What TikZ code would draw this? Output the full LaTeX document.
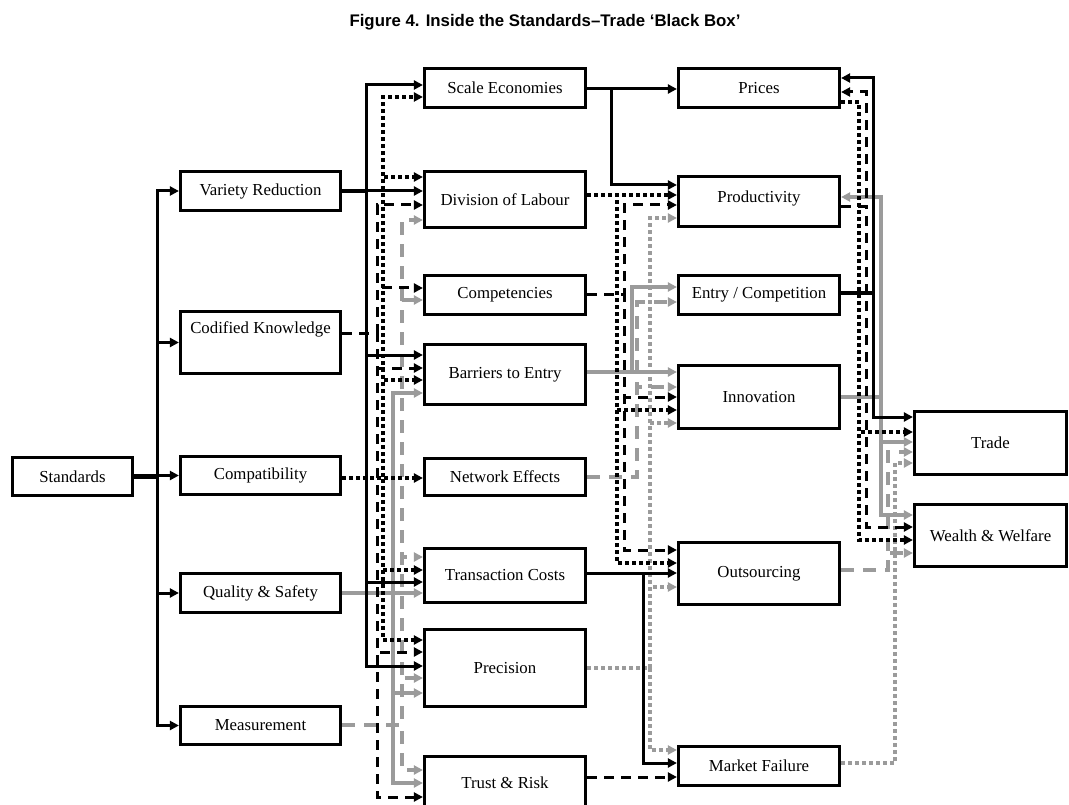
\documentclass[tikz,border=0pt]{standalone}
\usepackage{fontspec}
\setmainfont{Liberation Serif}
\newfontfamily\titlefont{Liberation Sans}
\usetikzlibrary{arrows.meta}
\definecolor{lgray}{RGB}{155,155,155}
\begin{document}
\begin{tikzpicture}[x=1pt,y=-1pt,
  box/.style={draw, line width=3.2pt, fill=white, inner sep=2pt,
    font=\fontsize{16.8}{19}\selectfont},
  lcol/.style={box, minimum width=160pt},
  mcol/.style={box, minimum width=161pt},
  fcol/.style={box, minimum width=152pt},
  wire/.style={line width=3pt, line cap=butt, line join=miter},
  tip/.style={-{Triangle[length=9pt,width=9pt]}},
  ink/.style={wire, black},
  pale/.style={wire, lgray, line width=3.4pt},
  dots/.style={dash pattern=on 3.6pt off 3.4pt, line width=3.6pt},
  dashes/.style={dash pattern=on 10pt off 7pt},
  longdashes/.style={dash pattern=on 13pt off 9pt}]

\useasboundingbox (0,0) rectangle (1069,805);
\clip (0,0) rectangle (1069,805);

% title
\node[font=\titlefont\bfseries\fontsize{16.8}{20}\selectfont] (title) at (545,22)
  {Figure 4. Inside the Standards–Trade ‘Black Box’};

% source
\node[box, minimum width=120pt, minimum height=38pt] (std) at (72.5,476.5) {Standards};

% first column
\node[lcol, minimum height=39pt] (vr) at (260.5,191) {Variety Reduction};
\node[lcol, minimum height=62pt, text height=11pt, text depth=28pt] (ck) at (260.5,342.5) {Codified Knowledge};
\node[lcol, minimum height=38pt] (compat) at (260.5,475.5) {Compatibility};
\node[lcol, minimum height=39pt] (qs) at (260.5,593) {Quality \& Safety};
\node[lcol, minimum height=38pt] (meas) at (260.5,725.5) {Measurement};

% second column
\node[mcol, minimum height=39pt] (scale) at (505,88) {Scale Economies};
\node[mcol, minimum height=56pt] (dol) at (505,199.5) {Division of Labour};
\node[mcol, minimum height=39pt] (comp) at (505,295) {Competencies};
\node[mcol, minimum height=60pt] (bar) at (505,374.5) {Barriers to Entry};
\node[mcol, minimum height=37pt] (ne) at (505,477) {Network Effects};
\node[mcol, minimum height=54pt] (tc) at (505,575.5) {Transaction Costs};
\node[mcol, minimum height=77pt] (prec) at (505,668) {Precision};
\node[mcol, minimum height=53pt] (trust) at (505,783) {Trust \& Risk};

% third column
\node[mcol, minimum height=39pt] (prices) at (759,88) {Prices};
\node[mcol, minimum height=50pt, text height=11pt, text depth=9pt] (prod) at (759,201.5) {Productivity};
\node[mcol, minimum height=39pt] (ec) at (759,295) {Entry / Competition};
\node[mcol, minimum height=63pt] (innov) at (759,397) {Innovation};
\node[mcol, minimum height=62pt] (outs) at (759,573.5) {Outsourcing};
\node[mcol, minimum height=39pt] (mf) at (759,766) {Market Failure};

% outcomes
\node[fcol, minimum height=63pt] (trade) at (990.5,443) {Trade};
\node[fcol, minimum height=62pt] (ww) at (990.5,535.5) {Wealth \& Welfare};

% Standards fan-out
\coordinate (sbus) at (157,476.5);
\draw[ink, line width=4.5pt] (std.east) -- (sbus);
\foreach \t in {vr, ck, compat, qs, meas}
  \draw[ink, tip] (sbus) |- (\t.west);

% ---- first to second column ----
% Measurement (grey dashed)
\foreach \t/\y in {dol/220, comp/300, tc/557, prec/678, trust/770}
  \draw[pale, longdashes, tip] (meas.east |- 0,725) -- (402,725) |- (\t.west |- 0,\y);
% Quality & Safety (grey solid)
\foreach \t/\y in {bar/393, tc/593, prec/693, trust/783}
  \draw[pale, tip] (qs.east |- 0,593) -- (393,593) |- (\t.west |- 0,\y);
% Compatibility (black dotted)
\foreach \t/\y in {scale/97, dol/177, bar/380, ne/478, tc/570, prec/640}
  \draw[ink, dots, tip] (compat.east |- 0,478) -- (383,478) |- (\t.west |- 0,\y);
% Codified Knowledge (black dashed)
\foreach \t/\y in {dol/205, comp/288, bar/368, prec/652, trust/797}
  \draw[ink, dashes, tip] (ck.east |- 0,333) -- (377,333) |- (\t.west |- 0,\y);
% Variety Reduction (black solid)
\draw[ink, line width=4.5pt] (vr.east |- 0,191) -- (366,191);
\foreach \t/\y in {scale/85, dol/191, bar/355, tc/582, prec/666}
  \draw[ink, tip] (vr.east |- 0,191) -- (366,191) |- (\t.west |- 0,\y);

% ---- second to third column ----
% Precision (grey dotted)
\foreach \t/\y in {prod/218, innov/423, outs/587, mf/750}
  \draw[pale, dots, tip] (prec.east |- 0,668) -- (650,668) |- (\t.west |- 0,\y);
% Network Effects (grey dashed)
\foreach \t/\y in {ec/302, innov/387}
  \draw[pale, longdashes, tip] (ne.east |- 0,477) -- (637,477) |- (\t.west |- 0,\y);
% Barriers to Entry (grey solid)
\foreach \t/\y in {ec/287, innov/372}
  \draw[pale, tip] (bar.east |- 0,372) -- (632,372) |- (\t.west |- 0,\y);
% Division of Labour (black dotted)
\foreach \t/\y in {prod/195, innov/410, outs/563}
  \draw[ink, dots, tip] (dol.east |- 0,195) -- (617,195) |- (\t.west |- 0,\y);
% Competencies (black dashed)
\foreach \t/\y in {prod/205, innov/397, outs/550}
  \draw[ink, dashes, tip] (comp.east |- 0,295) -- (624,295) |- (\t.west |- 0,\y);
% Scale Economies (black solid)
\foreach \t/\y in {prices/89, prod/185}
  \draw[ink, tip] (scale.east |- 0,89) -- (611,89) |- (\t.west |- 0,\y);
% Transaction Costs (black solid)
\foreach \t/\y in {outs/573, mf/763}
  \draw[ink, tip] (tc.east |- 0,573) -- (643,573) |- (\t.west |- 0,\y);
% Trust & Risk (black dashed)
\draw[ink, dashes, tip] (trust.east |- 0,777) -- (mf.west |- 0,777);

% ---- third column to outcomes ----
% Market Failure (grey dotted)
\draw[pale, dots, tip] (mf.east |- 0,763) -- (895,763) |- (trade.west |- 0,463);
% Outsourcing (grey dashed)
\foreach \t/\y in {trade/452, ww/553}
  \draw[pale, longdashes, tip] (outs.east |- 0,570) -- (888,570) |- (\t.west |- 0,\y);
% Innovation (grey solid)
\draw[pale, tip] (innov.east |- 0,397) -- (881,397) |- (prod.east |- 0,197);
\foreach \t/\y in {trade/442, ww/515}
  \draw[pale, tip] (innov.east |- 0,397) -- (881,397) |- (\t.west |- 0,\y);
% Prices (black dotted)
\foreach \t/\y in {trade/432, ww/540}
  \draw[ink, dots, tip] (prices.east |- 0,102) -- (859,102) |- (\t.west |- 0,\y);
% Productivity (black dashed)
\draw[ink, dashes, tip] (prod.east |- 0,207) -- (866,207) |- (prices.east |- 0,92);
\draw[ink, dashes, tip] (prod.east |- 0,207) -- (866,207) |- (ww.west |- 0,527);
% Entry / Competition (black solid)
\draw[ink, line width=4.5pt] (ec.east |- 0,293) -- (873,293);
\draw[ink, tip] (ec.east |- 0,293) -- (873,293) |- (prices.east |- 0,78);
\draw[ink, tip] (ec.east |- 0,293) -- (873,293) |- (trade.west |- 0,417);

\end{tikzpicture}
\end{document}
